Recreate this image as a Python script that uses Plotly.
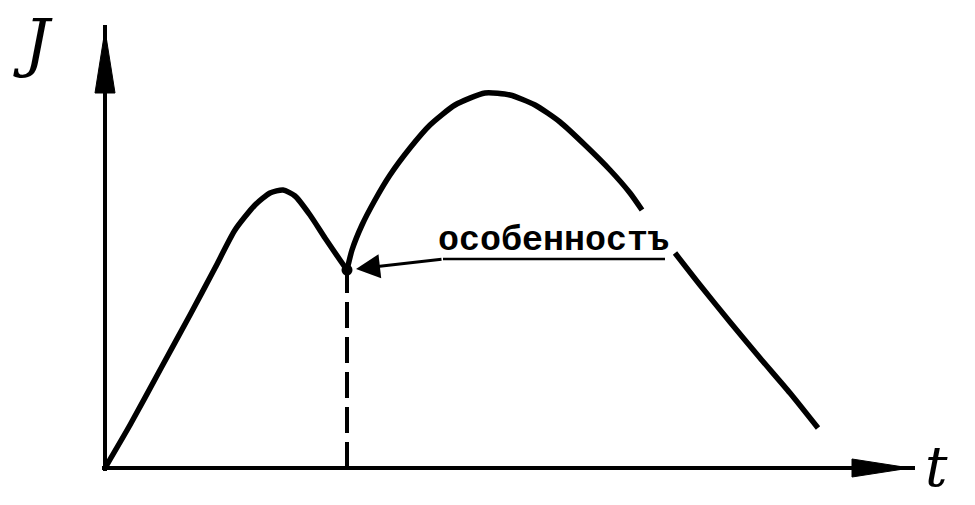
import plotly.graph_objects as go

# Current J versus time t: rise to a first maximum, a cusp (singular point),
# a second larger hump, then a falling branch.
t_rise = [0, 25, 55, 85, 110, 130, 150, 165, 178, 190, 205, 220, 235, 242]
J_rise = [0, 43, 98, 153, 200, 238, 263, 275, 278, 272, 253, 230, 208, 198]

t_hump = [242, 247, 257, 270, 285, 305, 325, 350, 380, 405, 430, 455, 480, 505, 525, 537]
J_hump = [198, 218, 243, 268, 293, 320, 343, 363, 375, 373, 363, 346, 323, 298, 275, 258]

t_fall = [570, 595, 625, 655, 685, 713]
J_fall = [215, 183, 146, 110, 75, 40]

# Singular point and its label
t_cusp, J_cusp = 242, 198
label_text = "особенностъ"
label_line_t = [560, 338]
label_line_J = [209, 209]

# Axis extents
t_axis_end = 810
J_axis_end = 443

INK = "#000000"
fig = go.Figure()

def add_line(x, y, width=5.5, dash="solid"):
    fig.add_trace(go.Scatter(x=x, y=y, mode="lines",
                             line=dict(color=INK, width=width, dash=dash,
                                       shape="spline", smoothing=0.6),
                             hoverinfo="skip", showlegend=False))

# Coordinate axes
add_line([-3, t_axis_end], [0, 0], width=4)
add_line([0, 0], [-3, J_axis_end], width=4)

# Arrowheads of the axes (long narrow triangles)
head_len, head_half = 58, 9
fig.add_trace(go.Scatter(
    x=[t_axis_end - 5, t_axis_end - 5 - head_len, t_axis_end - 5 - head_len, t_axis_end - 5],
    y=[0, head_half, -head_half, 0], mode="lines", fill="toself",
    fillcolor=INK, line=dict(color=INK, width=1), hoverinfo="skip", showlegend=False))
fig.add_trace(go.Scatter(
    x=[0, -head_half - 1, head_half + 1, 0],
    y=[J_axis_end - 5, J_axis_end - 5 - head_len - 5, J_axis_end - 5 - head_len - 5, J_axis_end - 5],
    mode="lines", fill="toself",
    fillcolor=INK, line=dict(color=INK, width=1), hoverinfo="skip", showlegend=False))

# Curve branches
add_line(t_rise, J_rise)
add_line(t_hump, J_hump)
add_line(t_fall, J_fall)

# Dashed drop line from the singular point to the time axis
fig.add_trace(go.Scatter(x=[t_cusp, t_cusp], y=[0, J_cusp], mode="lines",
                         line=dict(color=INK, width=4, dash="26px,9px"),
                         hoverinfo="skip", showlegend=False))

# Singular point marker
fig.add_trace(go.Scatter(x=[t_cusp], y=[J_cusp], mode="markers",
                         marker=dict(color=INK, size=11),
                         hoverinfo="skip", showlegend=False))

# Underline of the label
fig.add_trace(go.Scatter(x=label_line_t, y=label_line_J, mode="lines",
                         line=dict(color=INK, width=2.5),
                         hoverinfo="skip", showlegend=False))

# Pointer from the label to the singular point
fig.add_annotation(x=t_cusp + 9, y=J_cusp + 1, ax=label_line_t[1], ay=label_line_J[1],
                   xref="x", yref="y", axref="x", ayref="y", text="",
                   showarrow=True, arrowhead=2, arrowsize=1.6, arrowwidth=3,
                   arrowcolor=INK)

# Label text (typewriter style)
fig.add_annotation(x=331, y=227, xref="x", yref="y", text="<b>" + label_text + "</b>",
                   showarrow=False, xanchor="left", yanchor="middle",
                   font=dict(family="Liberation Mono", size=35, color=INK))

# Axis names
fig.add_annotation(x=-72, y=425, xref="x", yref="y", text="<i>J</i>",
                   showarrow=False, xanchor="center", yanchor="middle",
                   font=dict(family="DejaVu Serif", size=64, color=INK))
fig.add_annotation(x=831, y=2, xref="x", yref="y", text="<i>t</i>",
                   showarrow=False, xanchor="center", yanchor="middle",
                   font=dict(family="DejaVu Serif", size=56, color=INK))

fig.update_layout(
    width=975, height=505,
    margin=dict(l=0, r=0, t=0, b=0),
    paper_bgcolor="white", plot_bgcolor="white",
    xaxis=dict(range=[-105, 870], visible=False, fixedrange=True),
    yaxis=dict(range=[-37, 468], visible=False, fixedrange=True),
)

fig.write_html("out.html")
